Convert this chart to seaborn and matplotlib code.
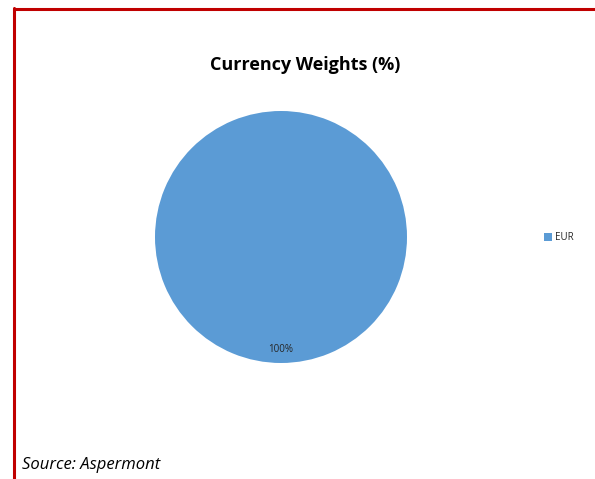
import matplotlib
matplotlib.use("Agg")
import matplotlib.pyplot as plt
import seaborn as sns
from matplotlib.lines import Line2D
from matplotlib.patches import Patch

sns.set_theme(style="white")
plt.rcParams['font.family'] = ['Open Sans', 'DejaVu Sans']

currencies = ["EUR"]
weights = [100]
colors = ["#5B9BD5"]
title = "Currency Weights (%)"
source = "Source: Aspermont"

fig = plt.figure(figsize=(5.95, 4.79), dpi=100)
fig.patch.set_facecolor("white")

# red frame lines (top and left)
fig.add_artist(Line2D([14/595, 1.0], [1 - 9/479, 1 - 9/479], color="#C00000", lw=2.2,
                      transform=fig.transFigure))
fig.add_artist(Line2D([14/595, 14/595], [0.0, 1 - 8/479], color="#C00000", lw=2.2,
                      transform=fig.transFigure))

ax = fig.add_axes([(281 - 126) / 595, (479 - 237 - 126) / 479, 252 / 595, 252 / 479])
wedges, texts, autotexts = ax.pie(weights, colors=colors, startangle=90, radius=1.0,
                                  autopct="%1.0f%%", pctdistance=0.89,
                                  textprops=dict(fontsize=7, color="#262626"),
                                  wedgeprops=dict(linewidth=0))
ax.set_xlim(-1, 1)
ax.set_ylim(-1, 1)
ax.set_aspect("equal")
ax.axis("off")

fig.text(305 / 595, 1 - 65 / 479, title, ha="center", va="center",
         fontsize=13, fontweight="bold", color="black")

handles = [Patch(facecolor=c, edgecolor="none", label=l) for c, l in zip(colors, currencies)]
fig.legend(handles=handles, loc="center left", bbox_to_anchor=(535 / 595, 1 - 238 / 479),
           frameon=False, fontsize=7, handlelength=0.8, handleheight=0.8, handletextpad=0.4)

fig.text(22 / 595, 1 - 465 / 479, source, ha="left", va="center", fontsize=12,
         fontstyle="italic", color="black")

fig.savefig("out.png", dpi=100)
